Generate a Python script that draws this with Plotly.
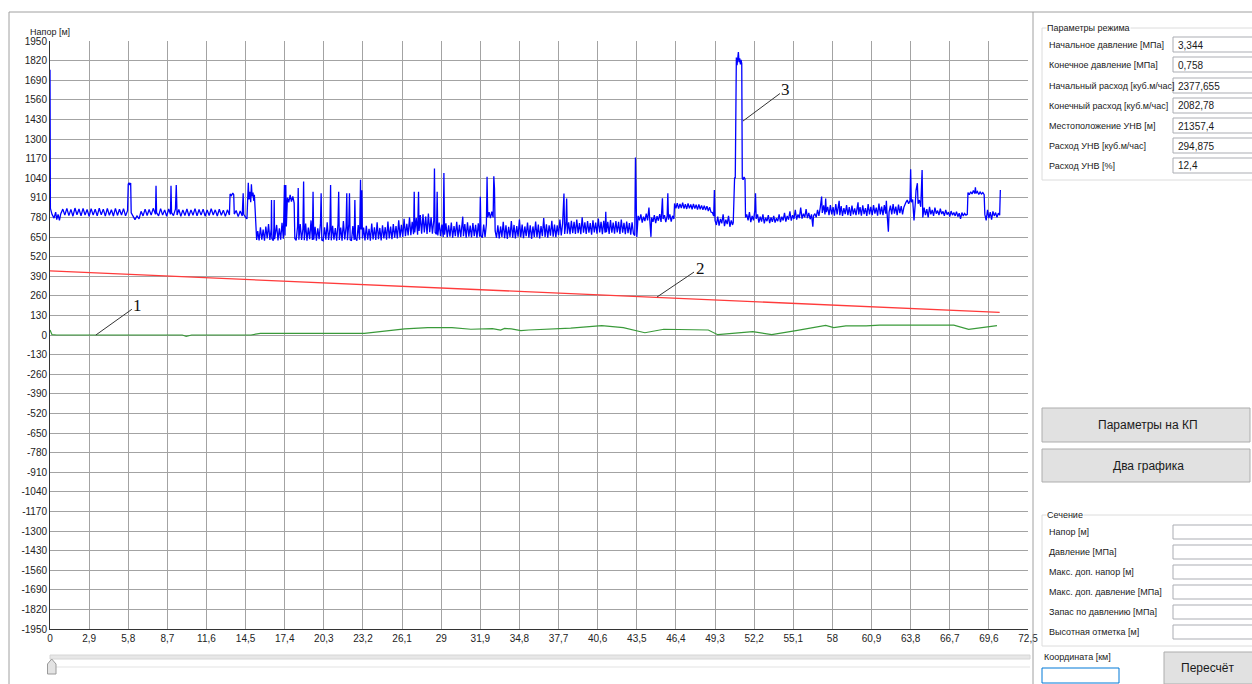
import plotly.graph_objects as go

# ---------------- data ----------------
# curve 3 : head [m] vs coordinate [km]  (blue, noisy measured head)
head_seg1 = [(0.0, 1760), (0.03, 840), (0.15, 800), (0.3, 775), (0.42, 815), (0.5, 765), (0.6, 800), (0.7, 760),
             (0.8, 805), (0.95, 835), (1.1, 795), (1.25, 840), (1.4, 792), (1.55, 833), (1.7, 788), (1.85, 842),
             (2.0, 798), (2.15, 836), (2.3, 790), (2.45, 840), (2.6, 796), (2.75, 832), (2.9, 787), (3.05, 838),
             (3.2, 795), (3.35, 834), (3.5, 790), (3.65, 841), (3.8, 797), (3.95, 835), (4.1, 788), (4.25, 839),
             (4.4, 794), (4.55, 831), (4.7, 789), (4.85, 840), (5.0, 793), (5.15, 834), (5.3, 796), (5.45, 838),
             (5.6, 790), (5.75, 825), (5.8, 1000), (5.86, 1010), (5.92, 995), (5.98, 1008), (6.02, 810),
             (6.15, 785), (6.3, 765), (6.45, 790), (6.6, 770), (6.75, 820), (6.9, 790), (7.05, 835), (7.2, 793),
             (7.35, 832), (7.5, 795), (7.65, 840), (7.82, 800), (7.86, 990), (7.9, 812), (8.05, 790), (8.2, 838),
             (8.35, 795), (8.5, 830), (8.65, 788), (8.8, 836), (8.93, 800), (8.97, 990), (9.01, 812), (9.15, 792),
             (9.3, 835), (9.36, 995), (9.42, 796), (9.55, 832), (9.7, 788), (9.85, 830), (10.0, 792), (10.15, 836),
             (10.3, 789), (10.45, 830), (10.6, 794), (10.75, 838), (10.9, 790), (11.05, 832), (11.2, 795),
             (11.35, 835), (11.5, 788), (11.65, 829), (11.8, 793), (11.95, 837), (12.1, 796), (12.25, 830),
             (12.4, 789), (12.55, 834), (12.7, 794), (12.85, 828), (13.0, 787), (13.15, 830), (13.3, 796),
             (13.35, 935), (13.45, 925), (13.55, 942), (13.62, 930), (13.66, 802), (13.8, 826), (13.95, 785),
             (14.1, 822), (14.25, 790), (14.32, 940), (14.36, 800), (14.5, 780), (14.6, 770)]
head_seg2 = [(14.7, 1010), (14.75, 900), (14.82, 950), (14.88, 880), (14.93, 1000), (14.98, 920), (15.05, 945),
             (15.1, 890), (15.15, 930), (15.2, 840), (15.27, 700), (15.32, 630)]
head_seg3 = [(15.4, 690), (15.5, 628), (15.6, 715), (15.7, 632), (15.8, 700), (15.9, 625), (16.0, 720), (16.1, 640),
             (16.2, 735), (16.3, 630), (16.4, 705), (16.42, 895), (16.45, 640), (16.55, 625), (16.6, 712),
             (16.62, 895), (16.65, 635), (16.8, 730), (16.9, 628), (17.0, 708), (17.1, 632), (17.2, 745),
             (17.3, 638), (17.38, 995), (17.42, 660), (17.48, 995), (17.52, 720), (17.6, 910), (17.7, 880),
             (17.8, 930), (17.9, 885), (18.0, 920), (18.1, 875), (18.15, 640), (18.25, 628), (18.35, 720),
             (18.4, 975), (18.45, 632), (18.55, 735), (18.65, 630), (18.75, 705), (18.8, 1018), (18.85, 628),
             (18.95, 740), (19.05, 626), (19.15, 712), (19.25, 635), (19.35, 760), (19.45, 630), (19.5, 950),
             (19.55, 632), (19.65, 718), (19.75, 625), (19.85, 708), (19.95, 636), (20.05, 742), (20.1, 940),
             (20.15, 630), (20.25, 625), (20.35, 715), (20.45, 632), (20.55, 748), (20.65, 630), (20.75, 702),
             (20.8, 995), (20.85, 628), (20.95, 725), (21.05, 632), (21.15, 710), (21.25, 625), (21.35, 738),
             (21.4, 950), (21.45, 630), (21.55, 712), (21.65, 626), (21.75, 755), (21.85, 634), (21.95, 718),
             (22.0, 940), (22.05, 628), (22.15, 735), (22.2, 940), (22.25, 632), (22.35, 625), (22.45, 722),
             (22.55, 630), (22.6, 895), (22.65, 640), (22.75, 626), (22.85, 730), (22.95, 632), (23.02, 1030),
             (23.06, 700), (23.12, 960), (23.16, 640)]
head_seg4 = [(23.25, 712), (23.35, 628), (23.45, 725), (23.55, 632), (23.65, 705), (23.75, 626), (23.85, 740),
             (23.95, 634), (24.05, 715), (24.15, 630), (24.25, 748), (24.35, 636), (24.45, 710), (24.55, 628),
             (24.65, 728), (24.75, 640), (24.85, 715), (24.95, 632), (25.05, 752), (25.15, 640), (25.25, 720),
             (25.35, 635), (25.45, 735), (25.55, 645), (25.65, 722), (25.75, 640), (25.85, 760), (25.95, 648),
             (26.05, 730), (26.15, 650), (26.25, 770), (26.35, 655), (26.45, 738), (26.55, 660), (26.65, 780),
             (26.75, 662), (26.85, 750), (26.95, 668), (27.0, 950), (27.04, 680), (27.15, 775), (27.25, 665),
             (27.32, 950), (27.36, 690), (27.45, 795), (27.55, 672), (27.65, 800), (27.75, 680), (27.85, 785),
             (27.95, 670), (28.05, 805), (28.15, 682), (28.25, 780), (28.35, 672), (28.45, 760), (28.5, 1104),
             (28.55, 680), (28.65, 668), (28.7, 950), (28.75, 660), (28.85, 745), (28.95, 655), (29.05, 732),
             (29.15, 650), (29.2, 1075), (29.25, 665), (29.35, 740), (29.45, 648), (29.55, 728), (29.65, 652),
             (29.75, 745), (29.85, 645), (29.95, 722), (30.05, 655), (30.15, 750), (30.25, 648), (30.35, 730),
             (30.45, 650), (30.55, 738), (30.6, 785), (30.65, 655), (30.75, 735), (30.85, 645), (30.95, 748),
             (31.05, 652), (31.15, 725), (31.25, 648), (31.35, 742), (31.45, 655), (31.55, 730), (31.65, 645),
             (31.75, 740), (31.85, 652), (31.9, 917), (31.95, 660), (32.05, 645), (32.15, 732), (32.25, 650),
             (32.35, 735), (32.4, 1049), (32.45, 780), (32.55, 815), (32.65, 775), (32.75, 818), (32.85, 780),
             (32.9, 1053), (32.95, 972), (33.0, 690)]
head_seg5 = [(33.1, 645), (33.2, 728), (33.3, 640), (33.4, 720), (33.5, 650), (33.6, 750), (33.7, 642), (33.8, 728),
             (33.9, 638), (34.0, 718), (34.1, 650), (34.2, 755), (34.3, 645), (34.4, 730), (34.5, 640), (34.6, 722),
             (34.7, 652), (34.8, 765), (34.9, 648), (35.0, 732), (35.1, 642), (35.2, 720), (35.3, 655), (35.4, 745),
             (35.5, 645), (35.6, 728), (35.7, 638), (35.8, 720), (35.9, 650), (36.0, 752), (36.1, 648), (36.2, 732),
             (36.3, 640), (36.4, 722), (36.5, 655), (36.6, 775), (36.7, 650), (36.8, 734), (36.9, 645), (37.0, 728),
             (37.1, 658), (37.2, 758), (37.3, 652), (37.4, 732), (37.5, 648), (37.6, 728), (37.7, 662), (37.8, 765),
             (37.9, 660), (38.0, 740), (38.1, 939), (38.15, 670), (38.25, 745), (38.3, 906), (38.35, 672),
             (38.45, 748), (38.55, 668), (38.65, 758), (38.75, 675), (38.85, 750), (38.95, 670), (39.05, 765),
             (39.15, 675), (39.25, 742), (39.35, 668), (39.45, 780), (39.55, 678), (39.65, 748), (39.75, 670),
             (39.85, 756), (39.95, 678), (40.05, 742), (40.15, 665), (40.25, 760), (40.35, 680), (40.45, 746),
             (40.55, 672), (40.65, 772), (40.75, 680), (40.85, 750), (40.95, 668), (41.05, 758), (41.15, 678),
             (41.2, 818), (41.25, 682), (41.35, 750), (41.45, 670), (41.55, 762), (41.65, 678), (41.75, 746),
             (41.85, 672), (41.95, 756), (42.05, 680), (42.15, 750), (42.25, 670), (42.35, 765), (42.45, 678),
             (42.55, 744), (42.65, 668), (42.75, 752), (42.85, 675), (42.95, 742), (43.05, 665), (43.15, 748),
             (43.25, 672), (43.35, 660), (43.4, 1177), (43.45, 655), (43.5, 650)]
head_seg6 = [(43.6, 790), (43.7, 760), (43.8, 800), (43.9, 745), (44.0, 785), (44.1, 755), (44.2, 805), (44.3, 760),
             (44.4, 846), (44.45, 770), (44.55, 651), (44.6, 780), (44.7, 750), (44.8, 795), (44.9, 742), (45.0, 788),
             (45.1, 758), (45.2, 802), (45.3, 750), (45.4, 907), (45.45, 770), (45.55, 795), (45.65, 748),
             (45.75, 790), (45.8, 940), (45.85, 765), (45.95, 800), (46.05, 752), (46.15, 790), (46.25, 770),
             (46.3, 872), (46.4, 840), (46.5, 875), (46.6, 838), (46.7, 870), (46.8, 842), (46.9, 878), (47.0, 838),
             (47.1, 868), (47.2, 836), (47.3, 872), (47.4, 840), (47.5, 866), (47.6, 834), (47.7, 870), (47.8, 838),
             (47.9, 864), (48.0, 832), (48.1, 866), (48.2, 834), (48.3, 860), (48.4, 830), (48.5, 858), (48.6, 828),
             (48.7, 855), (48.8, 822), (48.9, 848), (49.0, 815), (49.1, 812), (49.2, 790), (49.25, 962),
             (49.3, 760), (49.4, 730), (49.5, 785), (49.6, 725), (49.7, 770), (49.8, 740), (49.9, 800), (50.0, 722),
             (50.1, 765), (50.2, 735), (50.3, 790), (50.4, 718), (50.5, 760), (50.6, 730), (50.65, 745)]
head_seg7 = [(50.7, 1030), (50.75, 1045), (50.8, 1040), (50.83, 1800), (50.88, 1840), (50.93, 1790), (50.98, 1830),
             (51.03, 1877), (51.08, 1810), (51.13, 1835), (51.18, 1795), (51.23, 1825), (51.28, 1800),
             (51.32, 1040), (51.38, 1030), (51.45, 1048), (51.52, 1035), (51.56, 780)]
head_seg8 = [(51.65, 800), (51.75, 760), (51.85, 815), (51.95, 748), (52.05, 790), (52.15, 760), (52.25, 825),
             (52.3, 940), (52.35, 770), (52.45, 800), (52.55, 745), (52.65, 785), (52.75, 752), (52.85, 800),
             (52.95, 740), (53.05, 778), (53.15, 755), (53.25, 795), (53.35, 742), (53.45, 780), (53.55, 750),
             (53.65, 790), (53.75, 745), (53.85, 775), (53.95, 755), (54.05, 800), (54.15, 748), (54.25, 785),
             (54.35, 760), (54.45, 810), (54.55, 752), (54.65, 790), (54.75, 765), (54.85, 820), (54.95, 758),
             (55.05, 795), (55.15, 770), (55.25, 830), (55.35, 765), (55.45, 800), (55.55, 775), (55.65, 845),
             (55.75, 772), (55.85, 805), (55.95, 780), (56.05, 835), (56.15, 775), (56.25, 810), (56.35, 768),
             (56.45, 800), (56.55, 718), (56.6, 790), (56.7, 805), (56.8, 780), (56.9, 830), (57.0, 790),
             (57.1, 845), (57.2, 918), (57.25, 810), (57.35, 860), (57.45, 800), (57.5, 905), (57.55, 815),
             (57.65, 850), (57.75, 795), (57.85, 862), (57.95, 800), (58.05, 848), (58.15, 792), (58.25, 868),
             (58.35, 800), (58.45, 845), (58.5, 890), (58.55, 795), (58.65, 855), (58.75, 790), (58.85, 842),
             (58.95, 802), (59.05, 862), (59.15, 795), (59.25, 848), (59.35, 790), (59.45, 858), (59.55, 800),
             (59.65, 840), (59.75, 795), (59.85, 865), (59.9, 880), (59.95, 800), (60.05, 848), (60.15, 792),
             (60.25, 860), (60.35, 802), (60.45, 842), (60.55, 790), (60.65, 868), (60.75, 800), (60.85, 850),
             (60.95, 795), (61.05, 862), (61.15, 805), (61.25, 845), (61.35, 792), (61.45, 872), (61.55, 800),
             (61.65, 852), (61.75, 795), (61.85, 862), (61.95, 805), (62.0, 890), (62.05, 810), (62.15, 685),
             (62.2, 815), (62.3, 858), (62.4, 800), (62.5, 868), (62.6, 805), (62.7, 852), (62.8, 795),
             (62.9, 865), (63.0, 808), (63.1, 855), (63.2, 800), (63.3, 848)]
head_seg9 = [(63.45, 880), (63.55, 895), (63.65, 870), (63.75, 890), (63.8, 1100), (63.85, 880), (63.95, 898),
             (64.05, 760), (64.15, 880), (64.2, 960), (64.3, 1007), (64.35, 870), (64.45, 895), (64.55, 850),
             (64.65, 1095), (64.7, 780), (64.8, 845), (64.9, 795), (65.0, 835), (65.1, 780), (65.2, 850),
             (65.3, 800), (65.4, 830), (65.5, 790), (65.6, 845), (65.7, 805), (65.8, 825), (65.9, 795), (66.0, 838),
             (66.1, 802), (66.2, 820), (66.3, 790), (66.4, 830), (66.5, 798), (66.6, 815), (66.7, 785), (66.8, 822),
             (66.9, 795), (67.0, 812), (67.1, 790), (67.2, 818), (67.3, 785), (67.4, 808), (67.5, 770), (67.6, 812),
             (67.7, 790), (67.8, 806), (67.9, 795), (68.0, 800), (68.05, 945), (68.15, 930), (68.25, 950),
             (68.35, 935), (68.45, 958), (68.55, 938), (68.6, 980), (68.65, 940), (68.75, 952), (68.85, 932),
             (68.95, 948), (69.05, 935), (69.15, 945), (69.25, 930), (69.3, 800), (69.4, 760), (69.5, 830),
             (69.6, 775), (69.7, 815), (69.8, 765), (69.9, 820), (70.0, 790), (70.1, 812), (70.2, 780), (70.3, 808),
             (70.4, 795), (70.45, 962)]

# curve 2 : hydraulic gradient line (red)
gradient_km = [0.0, 70.4]
gradient_m = [425, 150]

# curve 1 : elevation profile (green)
profile_km = [0.0, 0.15, 0.5, 7.5, 7.8, 8.7, 9.0, 9.8, 10.1, 10.5, 14.9, 15.6, 23.3, 24.8, 26.3, 28.0, 29.8, 31.2,
              32.0, 32.8, 33.4, 33.7, 34.2, 34.9, 35.5, 38.6, 40.9, 42.5, 44.1, 45.5, 48.8, 49.5, 52.1, 53.5,
              55.3, 57.5, 58.1, 59.0, 60.5, 61.5, 67.0, 68.1, 70.2]
profile_m = [33, 2, 0, 0, 4, 4, 0, 0, -9, 0, 0, 11, 11, 25, 40, 49, 49, 38, 42, 42, 33, 44, 40, 29, 33, 45, 62,
             49, 15, 38, 33, 2, 22, 2, 29, 64, 49, 60, 60, 66, 66, 38, 62]

x_tick_vals = [0, 2.9, 5.8, 8.7, 11.6, 14.5, 17.4, 20.3, 23.2, 26.1, 29, 31.9, 34.8, 37.7, 40.6, 43.5, 46.4,
               49.3, 52.2, 55.1, 58, 60.9, 63.8, 66.7, 69.6, 72.5]
x_tick_text = ["0", "2,9", "5,8", "8,7", "11,6", "14,5", "17,4", "20,3", "23,2", "26,1", "29", "31,9", "34,8",
               "37,7", "40,6", "43,5", "46,4", "49,3", "52,2", "55,1", "58", "60,9", "63,8", "66,7", "69,6", "72,5"]
y_tick_vals = [1950, 1820, 1690, 1560, 1430, 1300, 1170, 1040, 910, 780, 650, 520, 390, 260, 130, 0,
               -130, -260, -390, -520, -650, -780, -910, -1040, -1170, -1300, -1430, -1560, -1690, -1820, -1950]
y_tick_text = [str(v) for v in y_tick_vals]

mode_labels = ["Начальное давление [МПа]", "Конечное давление [МПа]", "Начальный расход [куб.м/час]",
               "Конечный расход [куб.м/час]", "Местоположение УНВ [м]", "Расход УНВ [куб.м/час]", "Расход УНВ [%]"]
mode_values = ["3,344", "0,758", "2377,655", "2082,78", "21357,4", "294,875", "12,4"]
section_labels = ["Напор [м]", "Давление [МПа]", "Макс. доп. напор [м]", "Макс. доп. давление [МПа]",
                  "Запас по давлению [МПа]", "Высотная отметка [м]"]

# ---------------- figure ----------------
head_segments = [head_seg1, head_seg2, head_seg3, head_seg4, head_seg5, head_seg6, head_seg7, head_seg8, head_seg9]
head_km = [p[0] for seg in head_segments for p in seg]
head_m = [p[1] for seg in head_segments for p in seg]

W, H = 1252, 684
L, R, T, B = 50, 1028, 41, 629


def px(x):
    return (x - L) / (R - L)


def py(y):
    return (B - y) / (B - T)


fig = go.Figure()
fig.add_trace(go.Scatter(x=profile_km, y=profile_m, mode="lines", line=dict(color="#3a9a3a", width=1.2),
                         hoverinfo="skip"))
fig.add_trace(go.Scatter(x=gradient_km, y=gradient_m, mode="lines", line=dict(color="#ff3b3b", width=1.4),
                         hoverinfo="skip"))
fig.add_trace(go.Scatter(x=head_km, y=head_m, mode="lines", line=dict(color="#0000ff", width=1.3),
                         hoverinfo="skip"))

ui_font = "Liberation Sans, Arial, sans-serif"
shapes = []
annotations = []

# curve numbers with leader lines
for txt, xk, ym, dx, dy in [("1", 3.4, 0, 42, -30), ("2", 45.0, 252, 43, -29), ("3", 51.37, 1419, 43, -32)]:
    annotations.append(dict(x=xk, y=ym, xref="x", yref="y", text=txt, showarrow=True, arrowhead=0,
                            arrowwidth=1, arrowcolor="#333333", ax=dx, ay=dy,
                            font=dict(family="Liberation Serif, Times New Roman, serif", size=17, color="#111")))

# axis title
annotations.append(dict(x=px(28), y=py(32), xref="paper", yref="paper", text="Напор [м]", showarrow=False,
                        xanchor="left", yanchor="middle", font=dict(family=ui_font, size=9, color="#222")))


def rect(x0, y0, x1, y1, line="#a0a0a0", fill="rgba(0,0,0,0)", lw=1):
    shapes.append(dict(type="rect", xref="paper", yref="paper", x0=px(x0), x1=px(x1), y0=py(y1), y1=py(y0),
                       line=dict(color=line, width=lw), fillcolor=fill, layer="above"))


def hline(x0, x1, y, color="#a0a0a0"):
    shapes.append(dict(type="line", xref="paper", yref="paper", x0=px(x0), x1=px(x1), y0=py(y), y1=py(y),
                       line=dict(color=color, width=1)))


def vline(x, y0, y1, color="#a0a0a0"):
    shapes.append(dict(type="line", xref="paper", yref="paper", x0=px(x), x1=px(x), y0=py(y0), y1=py(y1),
                       line=dict(color=color, width=1)))


def label(x, y, text, size=9, anchor="left", bg=None):
    d = dict(x=px(x), y=py(y), xref="paper", yref="paper", text=text, showarrow=False, xanchor=anchor,
             yanchor="middle", font=dict(family=ui_font, size=size, color="#1a1a1a"))
    if bg:
        d["bgcolor"] = bg
        d["borderpad"] = 0
    annotations.append(d)


# chart frame
hline(9, 1252, 12)
vline(9, 12, 684)
vline(1033, 12, 684)

# group "Параметры режима"
rect(1042, 28, 1260, 180, line="#dcdcdc")
label(1046, 28, "Параметры режима", size=9, bg="white")
mode_rows = [45, 65, 86, 106, 126, 146, 166]
for yc, lab, val in zip(mode_rows, mode_labels, mode_values):
    label(1047, yc, lab)
    rect(1173, yc - 8, 1260, yc + 7, line="#abadb3", fill="white")
    label(1176, yc, val, size=10)

# buttons
rect(1042, 408, 1250, 442, line="#adadad", fill="#e1e1e1")
label(1148, 425, "Параметры на КП", size=12, anchor="center")
rect(1042, 449, 1250, 482, line="#adadad", fill="#e1e1e1")
label(1148, 466, "Два графика", size=12, anchor="center")

# group "Сечение"
rect(1042, 515, 1260, 646, line="#dcdcdc")
label(1046, 515, "Сечение", size=9, bg="white")
section_rows = [532, 552, 572, 592, 612, 632]
for yc, lab in zip(section_rows, section_labels):
    label(1047, yc, lab)
    rect(1173, yc - 7, 1260, yc + 7, line="#abadb3", fill="white")

label(1042, 657, "Координата [км]", size=9)
rect(1042, 668, 1119, 683, line="#0078d7", fill="white")
rect(1164, 652, 1260, 684, line="#adadad", fill="#e1e1e1")
label(1207, 668, "Пересчёт", size=12, anchor="center")

# track bar
rect(50, 655, 1030, 659, line="#d6d6d6", fill="#e7e7e7")
hline(56, 1030, 667, color="#e3e3e3")
shapes.append(dict(type="path", xref="paper", yref="paper",
                   path="M {a},{b} L {a},{c} L {m},{d} L {e},{c} L {e},{b} Z".format(
                       a=px(47.5), e=px(56), m=px(51.7), b=py(674), c=py(664), d=py(659)),
                   line=dict(color="#9a9a9a", width=1), fillcolor="#e3e3e3", layer="above"))

grid = "#a3a3a3"
fig.update_layout(
    template="none",
    width=W, height=H,
    margin=dict(l=L, r=W - R, t=T, b=H - B, autoexpand=False),
    paper_bgcolor="white", plot_bgcolor="white",
    showlegend=False,
    font=dict(family=ui_font, size=10, color="#222"),
    shapes=shapes, annotations=annotations,
    xaxis=dict(range=[0, 72.5], tickmode="array", tickvals=x_tick_vals, ticktext=x_tick_text,
               showgrid=True, gridcolor=grid, gridwidth=1, zeroline=False, showline=True,
               linecolor="#333", linewidth=1, ticks="", automargin=False, fixedrange=True,
               tickfont=dict(size=10, color="#222")),
    yaxis=dict(range=[-1950, 1950], tickmode="array", tickvals=y_tick_vals, ticktext=y_tick_text,
               showgrid=True, gridcolor=grid, gridwidth=1, zeroline=False, showline=True,
               linecolor="#333", linewidth=1, ticks="", automargin=False, fixedrange=True,
               tickfont=dict(size=10, color="#222")),
)

fig.write_html("out.html", config={"displayModeBar": False},
               post_script="document.body.style.margin='0';document.body.style.overflow='hidden';")
